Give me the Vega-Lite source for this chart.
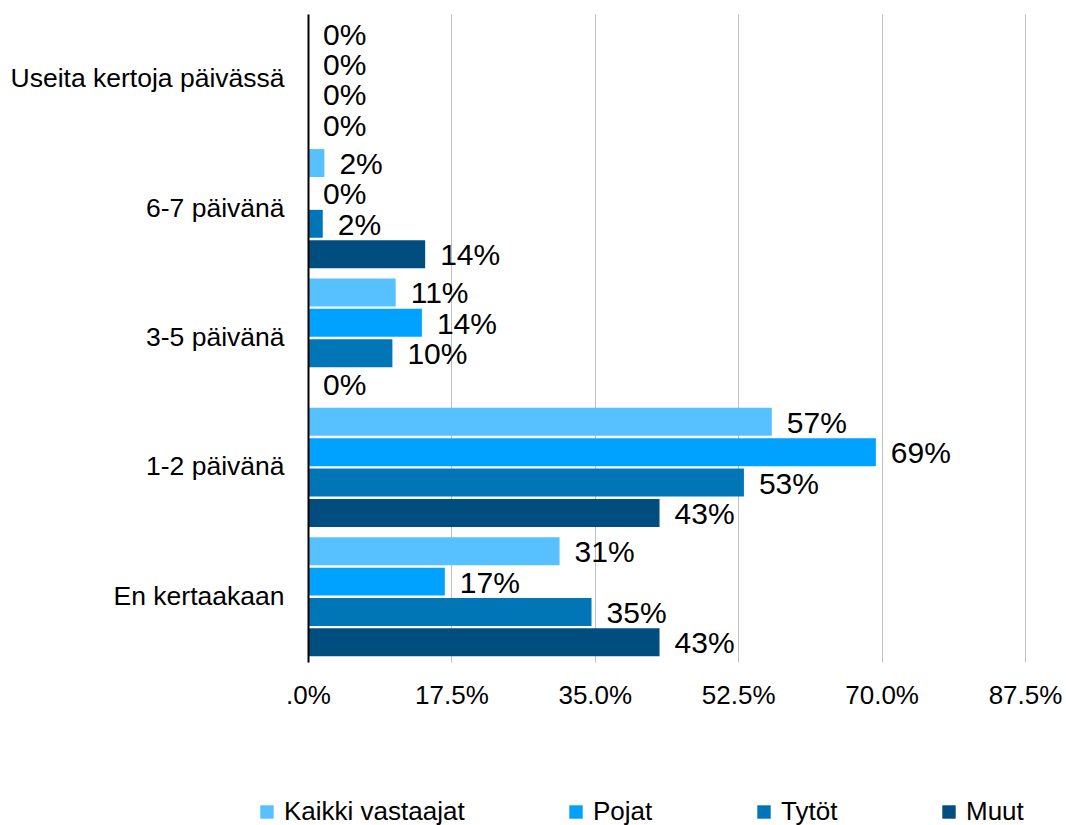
{
  "$schema": "https://vega.github.io/schema/vega-lite/v6.json",
  "width": 717,
  "height": 648,
  "autosize": {"type": "none"},
  "padding": {"left": 308, "top": 14, "right": 41, "bottom": 163},
  "config": {"view": {"stroke": null}, "font": "Liberation Sans"},
  "data": {
    "values": [
      {"category": "Useita kertoja päivässä", "group": "Kaikki vastaajat", "value": 0},
      {"category": "Useita kertoja päivässä", "group": "Pojat", "value": 0},
      {"category": "Useita kertoja päivässä", "group": "Tytöt", "value": 0},
      {"category": "Useita kertoja päivässä", "group": "Muut", "value": 0},
      {"category": "6-7 päivänä", "group": "Kaikki vastaajat", "value": 0.020},
      {"category": "6-7 päivänä", "group": "Pojat", "value": 0},
      {"category": "6-7 päivänä", "group": "Tytöt", "value": 0.018},
      {"category": "6-7 päivänä", "group": "Muut", "value": 0.143},
      {"category": "3-5 päivänä", "group": "Kaikki vastaajat", "value": 0.107},
      {"category": "3-5 päivänä", "group": "Pojat", "value": 0.139},
      {"category": "3-5 päivänä", "group": "Tytöt", "value": 0.103},
      {"category": "3-5 päivänä", "group": "Muut", "value": 0},
      {"category": "1-2 päivänä", "group": "Kaikki vastaajat", "value": 0.566},
      {"category": "1-2 päivänä", "group": "Pojat", "value": 0.693},
      {"category": "1-2 päivänä", "group": "Tytöt", "value": 0.532},
      {"category": "1-2 päivänä", "group": "Muut", "value": 0.429},
      {"category": "En kertaakaan", "group": "Kaikki vastaajat", "value": 0.307},
      {"category": "En kertaakaan", "group": "Pojat", "value": 0.167},
      {"category": "En kertaakaan", "group": "Tytöt", "value": 0.346},
      {"category": "En kertaakaan", "group": "Muut", "value": 0.429}
    ]
  },
  "encoding": {
    "y": {
      "field": "category",
      "type": "nominal",
      "sort": ["Useita kertoja päivässä", "6-7 päivänä", "3-5 päivänä", "1-2 päivänä", "En kertaakaan"],
      "scale": {"paddingInner": 0.08, "paddingOuter": 0.044},
      "axis": {
        "title": null,
        "ticks": false,
        "labelFontSize": 26.5,
        "labelColor": "#000000",
        "labelPadding": 24,
        "labelLimit": 400,
        "domainColor": "#000000",
        "domainWidth": 2,
        "zindex": 1
      }
    },
    "yOffset": {
      "field": "group",
      "sort": ["Kaikki vastaajat", "Pojat", "Tytöt", "Muut"],
      "scale": {"paddingInner": 0.08}
    },
    "x": {
      "field": "value",
      "type": "quantitative",
      "scale": {"domain": [0, 0.875]},
      "axis": {
        "title": null,
        "values": [0, 0.175, 0.35, 0.525, 0.7, 0.875],
        "labelExpr": "datum.value == 0 ? '.0%' : format(datum.value, '.1%')",
        "domain": false,
        "ticks": false,
        "gridColor": "#C0C0C0",
        "gridWidth": 1,
        "labelFontSize": 26,
        "labelColor": "#000000",
        "labelPadding": 20,
        "labelFlush": false,
        "labelOverlap": false
      }
    }
  },
  "layer": [
    {
      "mark": {"type": "bar"},
      "encoding": {
        "color": {
          "field": "group",
          "type": "nominal",
          "sort": ["Kaikki vastaajat", "Pojat", "Tytöt", "Muut"],
          "scale": {
            "domain": ["Kaikki vastaajat", "Pojat", "Tytöt", "Muut"],
            "range": ["#57C0FF", "#00A2FF", "#0076B6", "#004E80"]
          },
          "legend": {
            "title": null,
            "orient": "none",
            "legendX": -54,
            "legendY": 785,
            "direction": "horizontal",
            "symbolType": "square",
            "symbolSize": 180,
            "symbolStrokeWidth": 0,
            "symbolOpacity": 1,
            "labelFontSize": 26,
            "labelColor": "#000000",
            "labelOffset": 4,
            "labelLimit": 400,
            "columnPadding": 98,
            "padding": 0
          }
        }
      }
    },
    {
      "mark": {"type": "text", "align": "left", "baseline": "middle", "dx": 15, "dy": 2, "fontSize": 30, "color": "#000000"},
      "encoding": {
        "text": {"field": "value", "type": "quantitative", "format": ".0%"}
      }
    }
  ]
}
